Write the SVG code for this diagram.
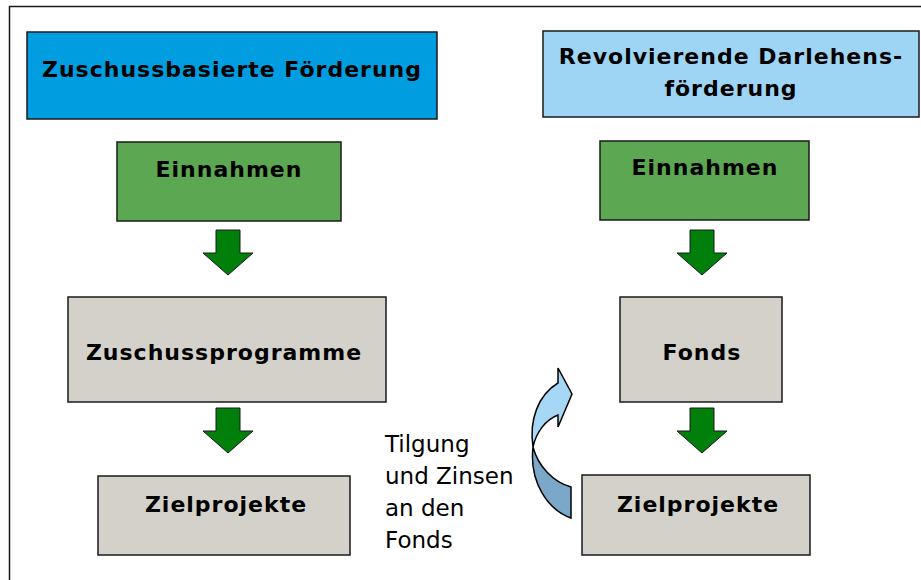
<svg xmlns="http://www.w3.org/2000/svg" width="921" height="580" viewBox="0 0 921 580">
<style>
.box{stroke:#1a1a1a;stroke-width:1.5}
.blue{fill:#009ee0}
.lblue{fill:#9ed4f4}
.green{fill:#5ca852}
.grey{fill:#d3d1c9}
.lbl{font-family:"DejaVu Sans","Verdana",sans-serif;font-weight:bold;font-size:22px;letter-spacing:1px;fill:#000;text-anchor:middle}
.note{font-family:"DejaVu Sans","Verdana",sans-serif;font-size:23px;fill:#000}
.garrow{fill:#00800a;stroke:#1a1a1a;stroke-width:1}
</style>
<defs>
<path id="ga" d="M-12,0 H12 V23 H25 L0,45 L-25,23 H-12 Z"/>
</defs>
<rect width="921" height="580" fill="#fff"/>
<path d="M9.5,580 V6.5 H921" fill="none" stroke="#1a1a1a" stroke-width="1.5"/>

<g id="zuschuss-title"><rect class="box blue" x="27" y="32" width="410" height="87"/><text class="lbl" x="232" y="77">Zuschussbasierte Förderung</text></g>
<g id="revolv-title"><rect class="box lblue" x="543" y="31" width="376" height="86"/><text class="lbl" x="731" y="64">Revolvierende Darlehens-</text><text class="lbl" x="731" y="96">förderung</text></g>
<g id="einnahmen-left"><rect class="box green" x="117" y="142" width="224" height="79"/><text class="lbl" x="229" y="177">Einnahmen</text></g>
<g id="einnahmen-right"><rect class="box green" x="600" y="141" width="209" height="79"/><text class="lbl" x="705" y="175">Einnahmen</text></g>
<g id="zuschussprogramme"><rect class="box grey" x="68" y="297" width="318" height="105"/><text class="lbl" x="224" y="360">Zuschussprogramme</text></g>
<g id="fonds"><rect class="box grey" x="620" y="297" width="162" height="105"/><text class="lbl" x="702" y="360">Fonds</text></g>
<g id="zielprojekte-left"><rect class="box grey" x="98" y="476" width="252" height="79"/><text class="lbl" x="226" y="512">Zielprojekte</text></g>
<g id="zielprojekte-right"><rect class="box grey" x="582" y="475" width="228" height="80"/><text class="lbl" x="698" y="512">Zielprojekte</text></g>

<g id="connectors">
<use href="#ga" class="garrow" x="228" y="230"/>
<use href="#ga" class="garrow" x="228" y="408"/>
<use href="#ga" class="garrow" x="702" y="230"/>
<use href="#ga" class="garrow" x="702" y="408"/>
<g id="return-arrow" stroke="#000" stroke-width="1.5" stroke-linejoin="miter">
<path d="M533,447 C529,482 548,510 571,518 L571,487 C553,482 538,466 533,447 Z" fill="#7ba8c9"/>
<path d="M533,447 C529,420 538,395 558,383 L558,368 L572,394 L558,427 L558,415 C545,420 536,433 533,447 Z" fill="#a6d8f5"/>
</g>
</g>
<g id="note">
<text class="note" x="385" y="452">Tilgung</text>
<text class="note" x="385" y="484">und Zinsen</text>
<text class="note" x="385" y="516">an den</text>
<text class="note" x="385" y="548">Fonds</text>
</g>
</svg>
